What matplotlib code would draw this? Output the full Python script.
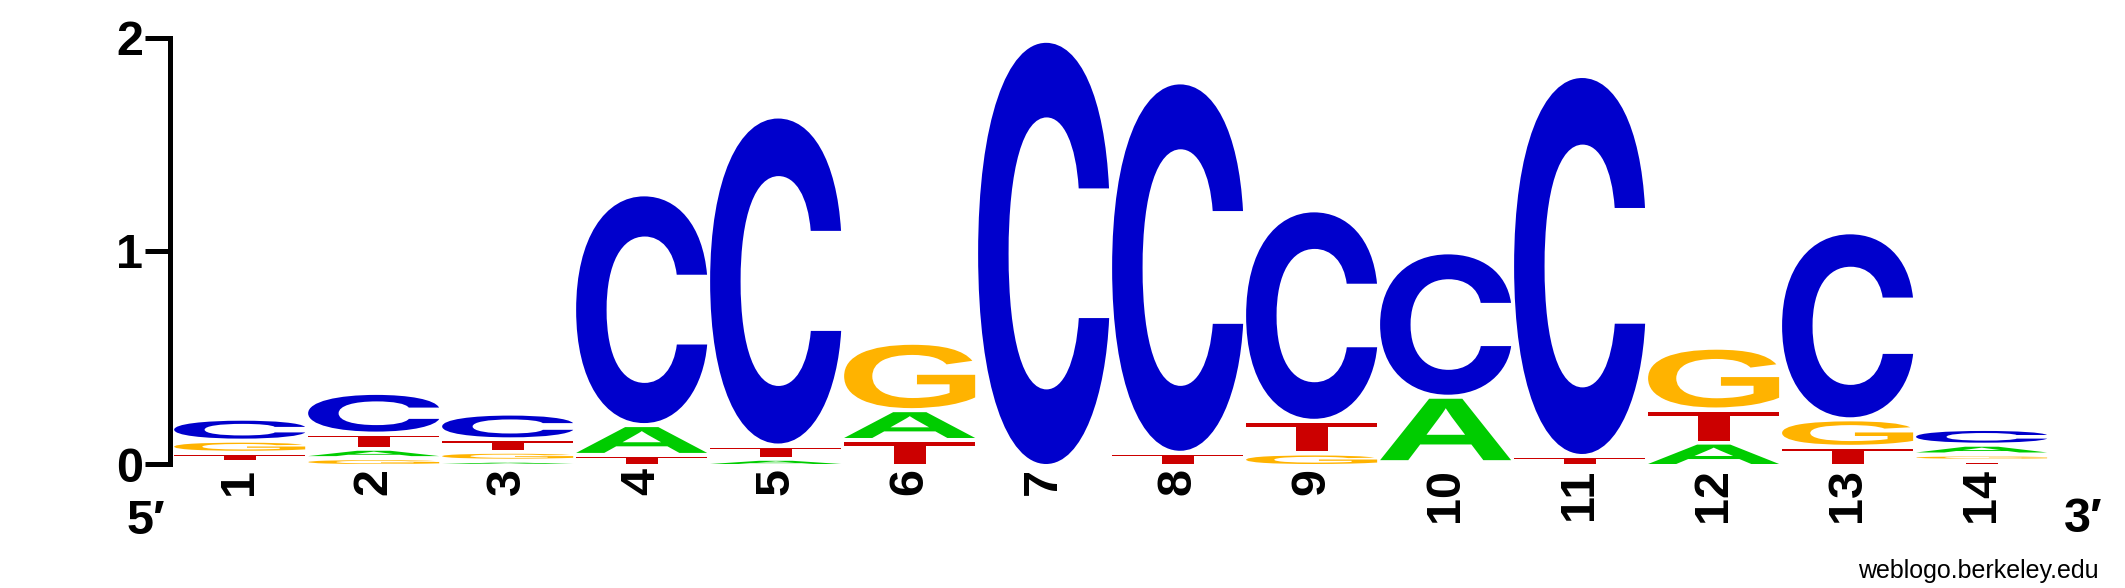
import matplotlib
matplotlib.use("Agg")
import matplotlib.pyplot as plt
from matplotlib.textpath import TextPath
from matplotlib.patches import PathPatch
from matplotlib.font_manager import FontProperties
from matplotlib.transforms import Affine2D

# --- data: stack height (bits) of each base at each position ---
positions = list(range(1, 15))
height_A = [0.019, 0.044, 0.025, 0.140, 0.034, 0.140, 0, 0, 0, 0.307, 0, 0.110, 0, 0.046]
height_C = [0.103, 0.191, 0.121, 1.082, 1.543, 0, 1.994, 1.737, 0.987, 0.677, 1.782, 0, 0.877, 0.074]
height_G = [0.057, 0.037, 0.042, 0, 0, 0.316, 0, 0, 0.059, 0, 0, 0.290, 0.129, 0.029]
height_T = [0.043, 0.071, 0.058, 0.052, 0.062, 0.122, 0, 0.062, 0.153, 0.018, 0.047, 0.155, 0.090, 0.025]
y_ticks = [0, 1, 2]

colors = {"A": "#00CC00", "C": "#0000CC", "G": "#FFB300", "T": "#CC0000"}
heights = {"A": height_A, "C": height_C, "G": height_G, "T": height_T}

FAMILY = ["Liberation Sans", "DejaVu Sans"]
letter_font = FontProperties(family="Liberation Sans", weight="bold")
c_font = FontProperties(family="Inter", weight="bold")  # C with flat terminals
glyphs = {b: TextPath((0, 0), b, size=100, prop=letter_font) for b in "AGT"}
glyphs["C"] = TextPath((0, 0), "C", size=100, prop=c_font)

W, H = 2125, 588
fig = plt.figure(figsize=(W / 100, H / 100), dpi=100)
base_px, top_px = 464, 37.5
left_px, right_px = 170, 2062
ax = fig.add_axes([left_px / W, (H - base_px) / H,
                   (right_px - left_px) / W, (base_px - top_px) / H])
ax.set_xlim(0.48, 14.6)
ax.set_ylim(0, 2)


def draw_letter(base, x, y, w, h):
    path = glyphs[base]
    ext = path.get_extents()
    t = (Affine2D().translate(-ext.x0, -ext.y0)
         .scale(w / ext.width, h / ext.height).translate(x, y))
    ax.add_patch(PathPatch(path, transform=t + ax.transData,
                           facecolor=colors[base], edgecolor="none",
                           clip_on=False))


gap = 0.019      # white space above each letter
col_w = 0.978
for i, pos in enumerate(positions):
    stack = sorted((heights[b][i], b) for b in "ACGT" if heights[b][i] > 0)
    y = 0.0
    for h, b in stack:
        drawn = h - gap
        if drawn > 0.002:
            draw_letter(b, pos - col_w / 2, y, col_w, drawn)
        y += h

# axes styling
for side in ("top", "right", "bottom"):
    ax.spines[side].set_visible(False)
ax.spines["left"].set_linewidth(3.6)
ax.spines["left"].set_bounds(0, 2)
ax.spines["left"].set_capstyle("projecting")

ax.set_yticks(y_ticks)
ax.set_yticklabels([str(v) for v in y_ticks], fontsize=35,
                   fontweight="bold", family=FAMILY)
ax.tick_params(axis="y", length=18, width=3.6, pad=1.5, direction="out")

ax.set_xticks(positions)
ax.set_xticklabels([str(p) for p in positions], rotation=90, fontsize=35,
                   fontweight="bold", family=FAMILY)
ax.tick_params(axis="x", length=0, pad=3)

fig.text(146 / W, 1 - 521 / H, "5\u2032", fontsize=35, fontweight="bold",
         family=FAMILY, ha="center", va="center")
fig.text(2083 / W, 1 - 520 / H, "3\u2032", fontsize=35, fontweight="bold",
         family=FAMILY, ha="center", va="center")
fig.text(2099 / W, 1 - 578 / H, "weblogo.berkeley.edu", fontsize=18,
         family=FAMILY, ha="right", va="baseline")

fig.savefig("out.png", dpi=100)
